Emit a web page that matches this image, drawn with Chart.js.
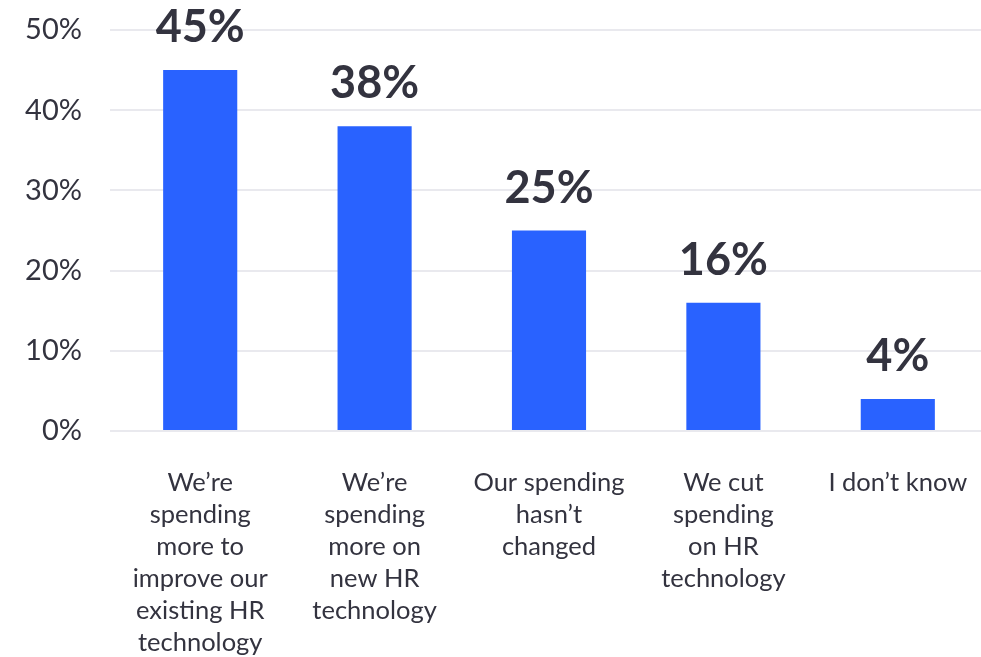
<!DOCTYPE html>
<html>
<head>
<meta charset="utf-8">
<script src="https://cdn.jsdelivr.net/npm/chart.js@4/dist/chart.umd.min.js"></script>
<style>
  html, body { margin: 0; padding: 0; background: #ffffff; overflow: hidden; }
  #wrap { position: relative; width: 985px; height: 657px; }
</style>
</head>
<body>
<div id="wrap"><canvas id="chart"></canvas></div>
<script>
// Survey answers on HR technology spending (share of respondents, %)
const categories = [
  ["We\u2019re", "spending", "more to", "improve our", "existing HR", "technology"],
  ["We\u2019re", "spending", "more on", "new HR", "technology"],
  ["Our spending", "hasn\u2019t", "changed"],
  ["We cut", "spending", "on HR", "technology"],
  ["I don\u2019t know"]
];
const shares = [45, 38, 25, 16, 4];
const yTicks = [0, 10, 20, 30, 40, 50];

const FONT = "'Source Sans Pro', Lato, 'Noto Sans', sans-serif";
const TEXT = '#33333f';
const BAR = '#2962ff';

// Writes each bar's value above it
const valueLabels = {
  id: 'valueLabels',
  afterDatasetsDraw(chart) {
    const ctx = chart.ctx;
    const meta = chart.getDatasetMeta(0);
    ctx.save();
    ctx.font = "bold 45px " + FONT;
    ctx.fillStyle = TEXT;
    ctx.textAlign = 'center';
    ctx.textBaseline = 'alphabetic';
    meta.data.forEach((bar, i) => {
      ctx.fillText(shares[i] + '%', bar.x, bar.y - 28);
    });
    ctx.restore();
  }
};

new Chart(document.getElementById('chart'), {
  type: 'bar',
  data: {
    labels: categories,
    datasets: [{
      data: shares,
      backgroundColor: BAR,
      borderWidth: 0,
      barPercentage: 0.85,
      categoryPercentage: 0.5
    }]
  },
  options: {
    responsive: true,
    maintainAspectRatio: false,
    animation: false,
    layout: { padding: { top: 30, right: 0, bottom: 0, left: 0 } },
    plugins: {
      legend: { display: false },
      tooltip: { enabled: false }
    },
    scales: {
      x: {
        grid: { display: false },
        border: { display: false },
        ticks: {
          color: TEXT,
          font: { family: FONT, size: 25.5, lineHeight: 1.255 },
          padding: 28,
          maxRotation: 0,
          autoSkip: false
        },
        afterFit(scale) {
          scale.height = 226;
          scale.paddingLeft = 0;
          scale.paddingRight = 0;
        }
      },
      y: {
        min: 0,
        max: 50,
        afterBuildTicks(scale) { scale.ticks = yTicks.map(v => ({ value: v })); },
        grid: { color: '#e9e9ee', lineWidth: 2, drawTicks: true, tickLength: 3 },
        border: { display: false },
        ticks: {
          color: TEXT,
          font: { family: FONT, size: 29 },
          padding: 28,
          callback: v => v + '%'
        },
        afterFit(scale) {
          scale.width = 113;
          scale.paddingTop = 0;
          scale.paddingBottom = 0;
        }
      }
    }
  },
  plugins: [valueLabels]
});
</script>
</body>
</html>
